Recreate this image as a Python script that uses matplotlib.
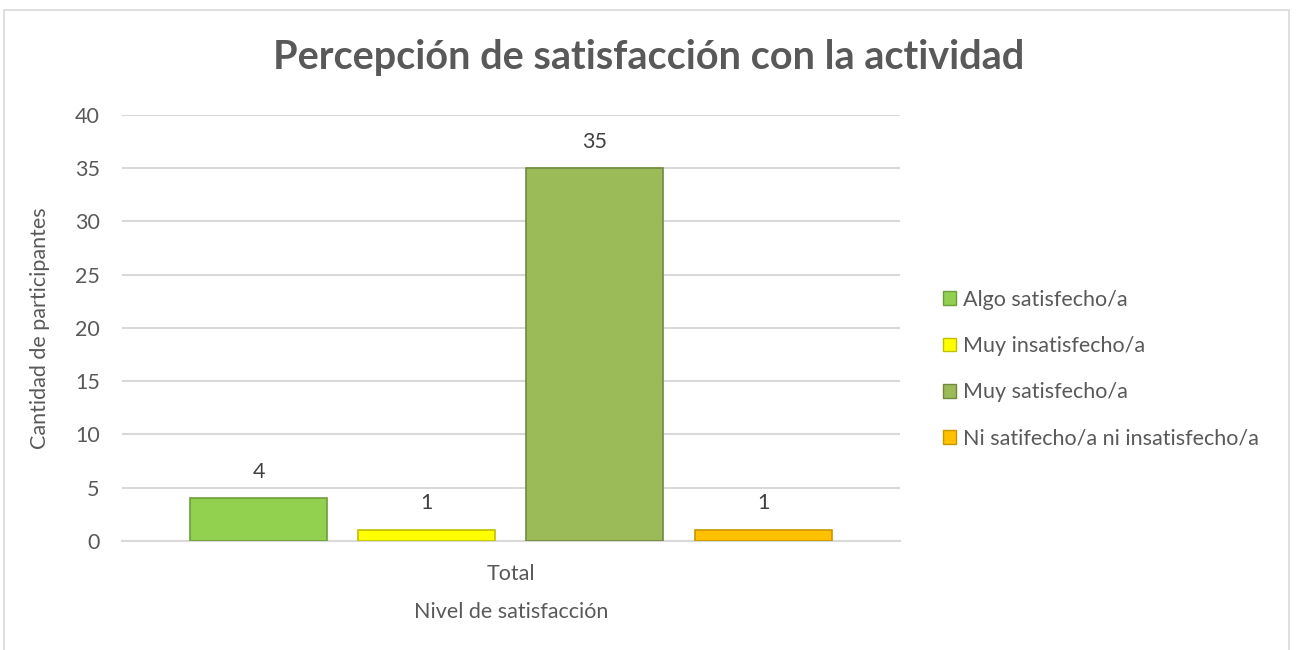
import matplotlib.pyplot as plt
from matplotlib.patches import Rectangle, Patch

# datos
categorias = ["Algo satisfecho/a", "Muy insatisfecho/a", "Muy satisfecho/a",
              "Ni satifecho/a ni insatisfecho/a"]
valores = [4, 1, 35, 1]
colores = ["#92D050", "#FFFF00", "#9BBB59", "#FFC000"]
bordes = ["#6E9E3A", "#BFBF00", "#71893F", "#C89600"]
yticks = [0, 5, 10, 15, 20, 25, 30, 35, 40]

plt.rcParams["font.family"] = ["Lato", "DejaVu Sans"]
gris = "#595959"

fig = plt.figure(figsize=(12.97, 6.5), dpi=100)
ax = fig.add_axes([0.094, 0.168, 0.600, 0.655])

x = range(len(valores))
bars = ax.bar(x, valores, width=0.815, color=colores, edgecolor=bordes,
              linewidth=1.2, zorder=3)
for b, v in zip(bars, valores):
    ax.annotate(str(v), (b.get_x() + b.get_width() / 2, v),
                xytext=(0, 12), textcoords="offset points",
                ha="center", va="bottom", fontsize=15.5, color="#404040")

ax.set_xlim(-0.8125, 3.815)
ax.set_ylim(0, 40)
ax.set_yticks(yticks)
ax.set_xticks([1.5])
ax.set_xticklabels(["Total"])
ax.tick_params(axis="both", length=0, labelsize=15.5, labelcolor=gris)
ax.tick_params(axis="y", pad=16)
ax.tick_params(axis="x", pad=17)
ax.grid(axis="y", color="#D9D9D9", linewidth=1.5, zorder=0)
for s in ["top", "right", "left"]:
    ax.spines[s].set_visible(False)
ax.spines["bottom"].set_color("#D9D9D9")
ax.spines["bottom"].set_linewidth(1.5)

ax.set_xlabel("Nivel de satisfacción", fontsize=15.5, color=gris, labelpad=13)
ax.set_ylabel("Cantidad de participantes", fontsize=15.5, color=gris, labelpad=18)

fig.text(0.5, 0.911, "Percepción de satisfacción con la actividad",
         ha="center", va="center", fontsize=28.5, fontweight="bold", color=gris)

handles = [Patch(facecolor=c, edgecolor=e) for c, e in zip(colores, bordes)]
leg = fig.legend(handles, categorias, loc="center left",
                 bbox_to_anchor=(0.712, 0.432), frameon=False, fontsize=15.5,
                 handlelength=0.6, handleheight=0.6, handletextpad=0.35,
                 labelspacing=1.22, labelcolor=gris)

fig.patches.append(Rectangle((0.003, -0.05), 0.991, 1.035, transform=fig.transFigure,
                             fill=False, edgecolor="#D9D9D9", linewidth=1.2))

fig.savefig("out.png", dpi=100)
